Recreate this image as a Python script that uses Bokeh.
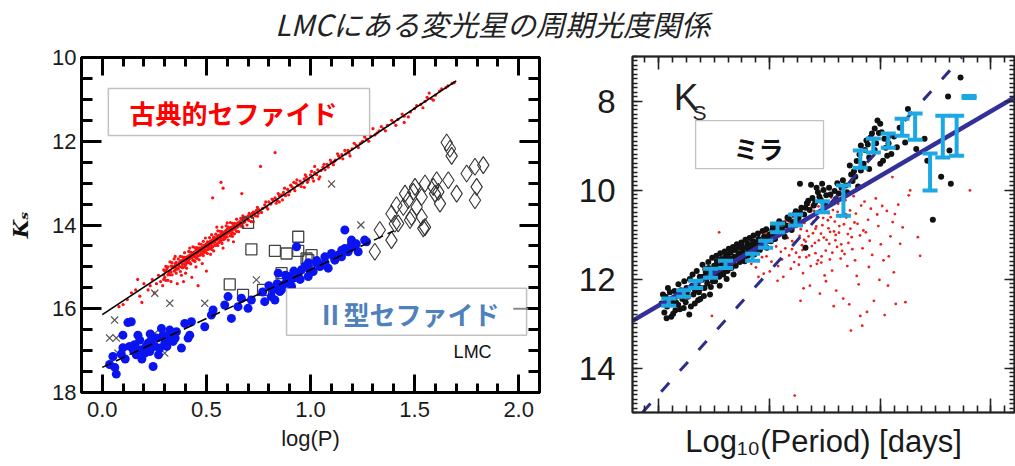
from bokeh.plotting import figure
from bokeh.models import (Range1d, FixedTicker, LinearAxis, Label, BoxAnnotation,
                          ColumnDataSource, Whisker, TeeHead, PrintfTickFormatter,
                          CustomJSTickFormatter)
from bokeh.layouts import column, row
from bokeh.embed import file_html
from bokeh.resources import INLINE

TITLE = "LMCにある変光星の周期光度関係"

# ================= LEFT PANEL DATA (log P, Ks) =================
left_xticks = [0.0, 0.5, 1.0, 1.5, 2.0]
left_yticks = [10, 12, 14, 16, 18]

# classical Cepheids (red dots): rows of (logP, [Ks...])
cep_rows = [
    (0.08, [15.95]), (0.10, [15.90]), (0.12, [15.78]), (0.14, [15.62]), (0.16, [15.55]),
    (0.17, [15.30]), (0.18, [15.70]), (0.19, [15.85]), (0.20, [15.40]), (0.22, [15.55]),
    (0.23, [15.45]), (0.24, [15.30]), (0.25, [15.62]), (0.26, [15.40]), (0.27, [15.20]),
    (0.28, [15.35]), (0.29, [15.45]),
    (0.30, [15.10, 15.25]), (0.31, [15.05]), (0.32, [15.15]), (0.33, [14.98, 15.12, 15.35]),
    (0.34, [15.02]), (0.35, [14.92, 15.08, 14.75]), (0.36, [14.95, 15.05, 15.40]), (0.37, [14.90, 14.99]),
    (0.38, [14.85, 15.00, 15.20]), (0.39, [14.82, 14.93, 15.35]), (0.40, [14.78, 14.88, 14.95, 15.15]),
    (0.41, [14.75, 14.85]), (0.42, [14.72, 14.80, 14.90, 14.55]), (0.43, [14.70, 14.78, 15.25]),
    (0.44, [14.65, 14.75, 14.85]), (0.45, [14.60, 14.70, 14.78, 15.00]), (0.46, [14.58, 14.66, 14.74, 15.45]),
    (0.47, [14.55, 14.63, 14.72]), (0.48, [14.52, 14.60, 14.68, 14.92]), (0.49, [14.48, 14.57, 14.65]),
    (0.50, [14.45, 14.52, 14.60, 15.10]), (0.51, [14.42, 14.50, 14.58]), (0.52, [14.38, 14.46, 14.55, 14.70]),
    (0.53, [14.35, 14.43, 14.52, 13.35]), (0.54, [14.32, 14.40, 14.48]), (0.55, [14.28, 14.36, 14.45, 14.05]),
    (0.56, [14.25, 14.33, 14.42]), (0.57, [14.22, 14.30, 14.38, 12.98]), (0.58, [14.18, 14.26, 14.35, 14.55, 13.12]),
    (0.59, [14.15, 14.23, 14.32]), (0.60, [14.10, 14.20, 14.28, 13.95]), (0.61, [14.08, 14.17]),
    (0.62, [14.05, 14.14, 14.22]), (0.63, [14.02, 14.10, 14.40]), (0.64, [13.98, 14.08]),
    (0.65, [13.95, 14.05]), (0.66, [13.92, 14.00]), (0.67, [13.88, 13.98, 13.25]), (0.68, [13.85, 13.94]),
    (0.69, [13.82]), (0.70, [13.78, 13.88]), (0.71, [13.76]), (0.72, [13.72, 13.82]), (0.73, [13.70]),
    (0.74, [13.65]), (0.75, [13.62, 13.72]), (0.76, [12.60]), (0.77, [13.60]), (0.78, [13.52]),
    (0.79, [13.58]), (0.80, [13.45]), (0.81, [13.50]), (0.82, [13.40]), (0.83, [13.35, 12.27]),
    (0.84, [13.42]), (0.85, [13.30, 13.45]), (0.86, [13.28]), (0.87, [13.22]), (0.88, [13.30]),
    (0.89, [13.15]), (0.90, [13.20]), (0.91, [13.08]), (0.92, [13.12, 12.98]), (0.93, [13.00]),
    (0.94, [13.05]), (0.95, [12.95]), (0.96, [13.00]), (0.97, [12.90, 13.10]), (0.98, [12.85]),
    (0.99, [12.92]), (1.00, [12.80]), (1.01, [12.88]), (1.02, [12.75, 12.60]), (1.03, [12.80]),
    (1.04, [12.90]), (1.05, [12.70]), (1.06, [12.62]), (1.07, [12.68]), (1.08, [12.55]),
    (1.10, [12.50]), (1.11, [12.56]), (1.12, [12.45]), (1.13, [12.30]), (1.14, [12.40]),
    (1.15, [12.32]), (1.17, [12.30]), (1.18, [12.22]), (1.19, [12.35]), (1.20, [12.18]),
    (1.22, [12.10]), (1.24, [12.05, 11.50]), (1.25, [12.00]), (1.27, [11.95]), (1.29, [11.88]),
    (1.30, [11.70]), (1.31, [11.85]), (1.33, [11.75]), (1.35, [11.70]), (1.37, [11.62]),
    (1.40, [11.55]), (1.42, [11.48]), (1.45, [11.40, 11.55]), (1.48, [11.30]), (1.50, [11.22]),
    (1.53, [11.12]), (1.55, [11.05]), (1.57, [10.85]), (1.58, [10.98]), (1.60, [10.90]),
    (1.62, [10.80]), (1.65, [10.72]), (1.68, [10.62]),
    (0.295, [15.07, 15.30, 15.19]), (0.305, [15.10, 15.32, 14.99]), (0.315, [15.19, 15.00, 15.32]),
    (0.325, [14.88, 15.10, 15.19]), (0.335, [15.19, 14.98, 14.90]), (0.345, [14.99, 15.10, 14.81]),
    (0.355, [15.15, 14.89, 15.03]), (0.365, [14.81, 14.95, 15.05]), (0.375, [15.11, 14.86, 14.75]),
    (0.385, [14.94, 14.76, 15.02]), (0.395, [14.77, 15.00, 14.66]), (0.405, [14.91, 14.78, 15.03]),
    (0.415, [14.63, 14.83, 14.90]), (0.425, [14.93, 14.65, 14.76]), (0.435, [14.67, 14.84, 14.52]),
    (0.445, [14.76, 14.54, 14.87]), (0.455, [14.54, 14.68, 14.80]), (0.465, [14.83, 14.55, 14.45]),
    (0.475, [14.62, 14.46, 14.69]), (0.485, [14.39, 14.62, 14.73]), (0.495, [14.65, 14.50, 14.31]),
    (0.505, [14.40, 14.68, 14.53]), (0.515, [14.56, 14.30, 14.41]), (0.525, [14.23, 14.50, 14.58]),
    (0.535, [14.41, 14.29, 14.62]), (0.545, [14.22, 14.49, 14.33]), (0.555, [14.49, 14.26, 14.14]),
    (0.565, [14.34, 14.15, 14.39]), (0.575, [14.16, 14.44, 14.05]), (0.585, [14.34, 14.19, 14.28]),
    (0.595, [14.02, 14.28, 14.13]), (0.605, [14.36, 14.05, 14.19]), (0.615, [14.07, 14.26, 13.94]),
    (0.625, [14.18, 13.96, 14.27]), (0.635, [13.96, 14.10, 14.21]), (0.645, [14.15, 13.86]),
    (0.655, [13.96, 14.16]), (0.665, [14.03, 13.84]), (0.675, [13.78, 14.04]), (0.685, [13.92, 13.81]),
    (0.695, [14.00]), (0.705, [13.72, 13.89]), (0.715, [13.92]), (0.725, [13.69, 13.92]),
    (0.735, [13.78]), (0.745, [13.58, 13.79]),
    (0.765, [13.70]), (0.785, [13.45]), (0.795, [13.62]), (0.815, [13.38]), (0.835, [13.48]),
    (0.845, [13.25]), (0.865, [13.40]), (0.875, [13.12]), (0.895, [13.28]), (0.905, [13.05]),
    (0.925, [13.18]), (0.935, [12.92]), (0.955, [13.08]), (0.975, [12.80]), (0.985, [12.98]),
    (1.005, [12.72]), (1.015, [12.95]), (1.035, [12.68]), (1.045, [12.85]), (1.065, [12.55]),
    (1.085, [12.62]), (1.095, [12.45]), (1.115, [12.48]), (1.135, [12.35]), (1.155, [12.42]),
    (1.165, [12.22]), (1.185, [12.28]), (1.21, [12.05]), (1.23, [12.15]), (1.26, [11.90]),
    (1.28, [12.00]), (1.32, [11.80]), (1.34, [11.65]), (1.36, [11.75]), (1.39, [11.50]),
    (1.41, [11.62]), (1.44, [11.35]), (1.47, [11.42]), (1.51, [11.15]), (1.54, [11.20]),
    (1.56, [10.95]), (1.59, [11.02]), (1.63, [10.75]), (1.66, [10.68]), (1.69, [10.60]),
]
cep_logp = [x for x, ks in cep_rows for _ in ks]
cep_ks = [k for _, ks in cep_rows for k in ks]
cep_fit_logp = [0.0, 1.70]
cep_fit_ks = [16.14, 10.56]

# type II Cepheids (blue filled circles)
t2_logp = [0.035, 0.067, 0.051, 0.091, 0.099, 0.123, 0.139, 0.099, 0.131, 0.155, 0.171, 0.187, 0.204,
           0.163, 0.220, 0.236, 0.244, 0.228, 0.252, 0.276, 0.284, 0.292, 0.300, 0.316, 0.324, 0.340,
           0.356, 0.380, 0.396, 0.412, 0.420, 0.428, 0.492, 0.524, 0.532, 0.588, 0.604, 0.620, 0.652,
           0.668, 0.700, 0.716, 0.780, 0.812, 0.821, 0.829, 0.845, 0.853, 0.869, 0.885, 0.893, 0.909,
           0.917, 0.933, 0.941, 0.957, 0.973, 0.989, 0.997, 1.013, 1.029, 1.045, 1.061, 1.069, 1.085,
           1.101, 1.117, 1.133, 1.149, 1.165, 1.165, 1.181, 1.197, 1.213, 1.229, 1.269, 1.197, 1.260,
           0.06, 0.11, 0.15, 0.18, 0.21, 0.26, 0.19, 0.27, 0.31, 0.35, 0.23, 0.16,
           0.77, 0.80, 0.84, 0.88, 0.92, 0.95, 0.99, 1.03, 1.07, 1.11, 1.15, 1.19, 1.22, 0.86, 0.90]
t2_ks = [17.33, 17.56, 17.14, 17.08, 16.93, 16.33, 16.31, 16.63, 16.90, 16.86, 16.63, 16.98, 17.06,
         17.10, 16.82, 16.74, 17.38, 17.02, 16.90, 16.94, 16.47, 16.63, 16.82, 16.67, 16.51, 16.78,
         16.55, 16.94, 16.35, 16.70, 16.63, 16.31, 16.43, 16.15, 16.03, 15.91, 15.71, 16.23, 15.95,
         15.75, 15.99, 15.79, 15.83, 15.71, 15.55, 15.79, 15.15, 15.59, 15.43, 15.35, 15.23, 15.47,
         15.27, 14.52, 15.19, 15.07, 14.99, 15.23, 15.07, 15.11, 14.91, 14.99, 14.95, 14.76, 15.03,
         14.68, 14.84, 14.72, 14.76, 14.56, 14.12, 14.64, 14.44, 14.52, 14.64, 14.40, 14.36, 14.36,
         17.40, 17.20, 17.00, 16.75, 16.90, 16.70, 17.20, 17.10, 16.90, 16.70, 16.60, 16.95,
         15.60, 15.45, 15.40, 15.20, 15.10, 15.30, 14.90, 14.85, 14.90, 14.75, 14.60, 14.55, 14.45, 15.55, 15.38]
t2_fit_logp = [0.0, 1.40]
t2_fit_ks = [17.40, 14.14]

# other variables (crosses, squares, diamonds)
cross_logp = [0.059, 0.035, 0.067, 0.075, 0.252, 0.324, 0.300, 0.252, 0.492, 0.740, 1.242, 1.101]
cross_ks = [16.27, 16.70, 16.70, 17.06, 15.63, 15.87, 17.06, 16.59, 15.87, 15.31, 14.00, 13.02]
sq_logp = [0.612, 0.676, 0.716, 0.772, 0.829, 0.861, 0.885, 0.941, 0.941, 0.981, 1.005, 0.989, 0.700]
sq_ks = [15.42, 15.67, 14.58, 15.55, 14.62, 15.15, 14.68, 14.28, 14.62, 14.80, 14.72, 14.84, 13.95]
dia_logp = [1.309, 1.333, 1.389, 1.421, 1.542, 1.478, 1.389, 1.413, 1.405, 1.469, 1.485, 1.494, 1.510,
            1.534, 1.534, 1.550, 1.550, 1.590, 1.598, 1.614, 1.622, 1.654, 1.670, 1.678, 1.662, 1.702,
            1.750, 1.790, 1.830, 1.798, 1.790, 1.446, 1.502, 1.454, 1.606]
dia_ks = [14.64, 14.12, 14.36, 13.96, 14.08, 13.88, 13.73, 13.53, 13.97, 13.41, 13.81, 13.21, 13.57,
          13.33, 13.81, 13.01, 14.05, 13.09, 13.25, 13.21, 13.49, 12.03, 12.18, 12.35, 12.93, 13.25,
          12.77, 12.61, 12.57, 13.09, 13.41, 13.57, 13.09, 13.25, 12.93]
dash_mark_logp = [2.01]
dash_mark_ks = [16.0]

# ================= RIGHT PANEL DATA (Miras) =================
right_xticks = [1.6, 2.0, 2.4, 2.8]
right_yticks = [8, 10, 12, 14]

mira_black = [
    (1.61, 12.55), (1.62, 12.75), (1.625, 12.40), (1.63, 12.62), (1.64, 12.30), (1.645, 12.85),
    (1.65, 12.50), (1.66, 12.70), (1.665, 12.38), (1.67, 12.58), (1.68, 12.25), (1.685, 12.45),
    (1.69, 12.65), (1.70, 12.20), (1.705, 12.40), (1.71, 12.80), (1.72, 12.15), (1.725, 12.35),
    (1.73, 12.55), (1.74, 12.10), (1.745, 12.30), (1.75, 12.45), (1.755, 12.02),
    (1.76, 11.95), (1.765, 12.20), (1.77, 11.85), (1.775, 12.10), (1.78, 11.75), (1.785, 12.35),
    (1.79, 11.90), (1.795, 12.05), (1.80, 11.70), (1.805, 11.95), (1.81, 11.60), (1.815, 11.85),
    (1.82, 12.15), (1.825, 11.55), (1.83, 11.80), (1.835, 11.65), (1.84, 11.50), (1.845, 12.00),
    (1.85, 11.45), (1.855, 11.70), (1.86, 11.40), (1.865, 11.60), (1.87, 11.90), (1.875, 11.35),
    (1.88, 11.55), (1.885, 11.30), (1.89, 11.48), (1.90, 11.25), (1.905, 11.42), (1.91, 11.60),
    (1.92, 11.20), (1.925, 11.38), (1.93, 11.30), (1.94, 11.15), (1.945, 11.45), (1.95, 11.25),
    (1.96, 11.10), (1.965, 11.35), (1.97, 11.20),
    (1.98, 11.05), (1.99, 11.30), (2.00, 11.00), (2.005, 11.15), (2.01, 10.90), (2.02, 11.10),
    (2.03, 10.85), (2.04, 10.95), (2.05, 10.75), (2.055, 11.05), (2.06, 10.80), (2.07, 10.65),
    (2.08, 10.90), (2.09, 10.55), (2.10, 10.70), (2.11, 10.50), (2.13, 11.30),
    (2.11, 9.86), (2.15, 9.88), (2.17, 9.95), (2.19, 9.86), (2.13, 10.40), (2.14, 10.24),
    (2.16, 10.35), (2.18, 10.15), (2.20, 10.30), (2.22, 10.10), (2.24, 10.20), (2.25, 10.08),
    (2.26, 9.95), (2.28, 10.05), (2.29, 9.45), (2.30, 9.80), (2.31, 9.70), (2.33, 9.56), (2.32, 9.92),
    (2.33, 9.00), (2.34, 9.41), (2.35, 8.89), (2.36, 9.27), (2.37, 8.73), (2.38, 8.62), (2.39, 8.44),
    (2.40, 8.51), (2.405, 8.70), (2.40, 9.41), (2.41, 9.34), (2.42, 9.05), (2.425, 9.23), (2.44, 9.19),
    (2.45, 8.80), (2.46, 9.04), (2.47, 8.60), (2.43, 8.95), (2.36, 9.53), (2.38, 9.10),
    (2.49, 8.93), (2.50, 8.18), (2.53, 9.08), (2.56, 8.85), (2.57, 9.34), (2.59, 10.67),
    (2.62, 9.70), (2.65, 9.11), (2.655, 9.86), (2.645, 7.90), (2.69, 7.47),
    (1.615, 12.35), (1.628, 12.88), (1.633, 12.20), (1.641, 12.48), (1.652, 12.78), (1.657, 12.27),
    (1.662, 12.52), (1.671, 12.12), (1.676, 12.68), (1.683, 12.36), (1.692, 12.05), (1.697, 12.52),
    (1.703, 12.28), (1.712, 12.00), (1.716, 12.62), (1.722, 11.90), (1.731, 12.25), (1.737, 11.82),
    (1.742, 12.48), (1.748, 11.95), (1.752, 12.20), (1.758, 11.68), (1.763, 12.38), (1.768, 11.78),
    (1.772, 12.00), (1.779, 11.62), (1.783, 11.88), (1.788, 12.18), (1.793, 11.52), (1.798, 11.80),
    (1.803, 12.05), (1.808, 11.48), (1.812, 11.72), (1.818, 11.95), (1.822, 11.42), (1.828, 11.68),
    (1.833, 11.90), (1.838, 11.38), (1.842, 11.60), (1.848, 11.82), (1.853, 11.32), (1.858, 11.55),
    (1.862, 11.75), (1.868, 11.28), (1.872, 11.50), (1.878, 11.70), (1.882, 11.22), (1.888, 11.42),
    (1.893, 11.62), (1.898, 11.18), (1.903, 11.35), (1.908, 11.52), (1.913, 11.12), (1.918, 11.30),
    (1.922, 11.48), (1.928, 11.08), (1.933, 11.25), (1.938, 11.40), (1.942, 11.02), (1.948, 11.18),
    (1.953, 11.35), (1.958, 10.98), (1.962, 11.15), (1.968, 11.30), (1.975, 10.92), (1.982, 11.12),
    (1.988, 10.88), (1.995, 11.05), (2.012, 10.82), (2.018, 11.00), (2.025, 10.78), (2.035, 10.70),
    (2.045, 10.88), (2.065, 10.62), (2.085, 10.72), (2.095, 10.48), (2.105, 10.62), (2.115, 10.40),
    (2.125, 10.55), (2.135, 10.30), (2.145, 10.45), (2.155, 10.18), (2.165, 10.28), (2.175, 10.05),
    (2.185, 10.22), (2.195, 10.00), (2.205, 10.12), (2.215, 9.95), (2.235, 10.02), (2.245, 9.85),
    (2.265, 9.78), (2.275, 9.90), (2.295, 9.65), (2.305, 9.58), (2.315, 9.35), (2.325, 9.20),
    (2.345, 9.10), (2.355, 8.98), (2.365, 8.82), (2.385, 8.95), (2.395, 8.72), (2.415, 8.85),
]
mira_black_logp = [p[0] for p in mira_black]
mira_black_ks = [p[1] for p in mira_black]

mira_red = [
    (1.903, 11.47), (1.921, 11.29), (1.934, 11.66), (1.912, 11.58), (1.938, 11.12),
    (1.947, 11.38), (1.962, 11.07), (1.951, 11.74), (1.973, 11.51), (1.968, 11.22), (1.979, 11.88),
    (1.986, 10.96), (1.993, 11.33), (2.007, 11.61), (2.014, 11.14), (2.001, 11.83), (2.018, 10.87), (1.989, 11.49),
    (2.024, 11.27), (2.037, 10.78), (2.045, 11.56), (2.052, 11.02), (2.031, 11.71), (2.058, 10.69),
    (2.041, 11.39), (2.029, 12.04),
    (2.063, 10.93), (2.071, 11.47), (2.084, 10.61), (2.092, 11.19), (2.077, 11.77), (2.098, 10.83),
    (2.066, 11.08), (2.089, 11.62), (2.081, 11.33),
    (2.104, 10.52), (2.117, 11.24), (2.126, 10.74), (2.133, 11.51), (2.109, 11.03), (2.138, 10.41),
    (2.121, 11.87), (2.113, 10.88), (2.131, 11.16), (2.106, 11.68),
    (2.143, 10.33), (2.157, 10.97), (2.166, 11.42), (2.172, 10.61), (2.149, 11.71), (2.178, 11.13),
    (2.161, 10.47), (2.153, 11.26), (2.169, 10.82), (2.146, 12.15), (2.175, 11.58),
    (2.184, 10.28), (2.191, 10.79), (2.203, 11.36), (2.214, 10.52), (2.196, 11.07), (2.219, 10.94),
    (2.187, 11.63), (2.208, 10.39), (2.216, 11.21), (2.199, 11.92), (2.211, 10.68), (2.182, 12.33),
    (2.223, 10.17), (2.236, 10.71), (2.244, 11.28), (2.229, 10.45), (2.251, 10.96), (2.257, 11.54),
    (2.238, 11.13), (2.226, 11.81), (2.248, 10.31), (2.241, 12.26), (2.232, 12.61), (2.254, 10.59),
    (2.263, 10.09), (2.277, 10.62), (2.285, 11.19), (2.268, 10.38), (2.292, 10.87), (2.271, 11.44),
    (2.297, 11.06), (2.281, 11.71), (2.266, 12.44), (2.288, 12.57), (2.294, 13.16), (2.274, 10.23),
    (2.304, 10.14), (2.312, 10.53), (2.327, 11.02), (2.318, 10.76), (2.336, 11.31), (2.309, 11.58),
    (2.331, 10.35), (2.322, 12.12), (2.328, 12.83), (2.315, 11.93), (2.339, 10.91),
    (2.343, 10.26), (2.356, 10.67), (2.362, 11.14), (2.348, 10.95), (2.371, 11.46), (2.366, 10.42),
    (2.352, 12.74), (2.377, 12.49), (2.359, 11.73), (2.335, 13.05),
    (2.384, 10.19), (2.393, 10.81), (2.402, 11.22), (2.389, 10.55), (2.412, 11.58), (2.397, 12.02),
    (2.407, 10.36), (2.416, 12.81),
    (2.424, 10.47), (2.437, 11.04), (2.445, 10.72), (2.431, 11.49), (2.428, 12.15), (2.444, 9.71),
    (2.453, 10.54), (2.456, 12.56), (2.449, 11.85),
    (2.465, 10.33), (2.472, 11.21), (2.481, 10.84), (2.491, 12.52), (2.503, 10.12), (2.508, 10.01),
    (2.536, 11.06), (2.544, 11.48), (2.724, 10.01),
    (1.792, 12.83), (1.818, 10.95), (2.064, 9.26), (2.091, 14.62), (2.112, 12.49), (1.960, 11.95),
    (2.050, 11.95), (2.123, 12.21), (2.204, 12.05),
    (2.057, 11.31), (2.073, 10.74), (2.096, 11.41), (2.102, 10.66), (2.119, 11.35), (2.128, 10.58),
    (2.141, 11.04), (2.159, 10.71), (2.164, 11.19), (2.177, 10.37), (2.188, 11.49), (2.194, 10.63),
    (2.206, 11.12), (2.213, 10.86), (2.227, 11.41), (2.233, 10.93), (2.246, 10.49), (2.259, 11.22),
    (2.269, 10.77), (2.283, 10.99), (2.291, 10.46), (2.299, 11.33), (2.135, 10.92), (2.151, 10.39),
    (2.171, 11.66), (2.186, 10.98), (2.218, 11.56), (2.239, 11.01), (2.262, 11.37), (2.276, 10.54),
    (2.108, 11.51), (2.082, 11.15), (2.062, 10.79), (2.198, 10.47), (2.221, 10.61), (2.252, 10.81),
    (2.166, 10.87), (2.143, 11.47), (2.125, 11.12), (2.307, 10.73),
]
mira_red_logp = [p[0] for p in mira_red]
mira_red_ks = [p[1] for p in mira_red]

# binned means with error bars (cyan)
bin_logp = [1.636, 1.690, 1.733, 1.787, 1.841, 1.939, 1.986, 2.029, 2.094, 2.191, 2.267,
            2.328, 2.375, 2.429, 2.479, 2.526, 2.580, 2.626, 2.676, 2.721]
bin_lo = [12.60, 12.40, 12.20, 11.97, 11.75, 11.59, 11.30, 10.95, 10.80, 10.50, 10.58,
          9.50, 9.16, 9.05, 8.78, 8.87, 10.01, 9.27, 9.23, 7.93]
bin_hi = [12.44, 12.25, 12.04, 11.77, 11.59, 11.43, 11.14, 10.75, 10.55, 10.25, 9.90,
          9.11, 8.84, 8.73, 8.40, 8.28, 9.18, 8.33, 8.33, 7.89]

pl_fit_logp = [1.505, 2.885]
pl_fit_ks = [12.94, 7.92]
steep_fit_logp = [1.541, 2.694]
steep_fit_ks = [15.00, 7.02]

# ================= helpers =================
EMPTY = CustomJSTickFormatter(code="return ''")


def style_axis(ax, ticks, minor, tin, tmin, lw, color, fmt=None, font=None, size=None,
               standoff=0, show=True):
    ax.ticker = FixedTicker(ticks=ticks, minor_ticks=minor)
    ax.major_tick_in = tin
    ax.major_tick_out = 0
    ax.minor_tick_in = tmin
    ax.minor_tick_out = 0
    ax.major_tick_line_width = lw
    ax.minor_tick_line_width = lw
    ax.major_tick_line_color = color
    ax.minor_tick_line_color = color
    ax.axis_line_color = color
    ax.axis_line_width = lw
    if show:
        if fmt:
            ax.formatter = PrintfTickFormatter(format=fmt)
        ax.major_label_text_font = font
        ax.major_label_text_font_size = size
        ax.major_label_text_color = "#1a1a1a"
        ax.major_label_standoff = standoff
    else:
        ax.formatter = EMPTY
        ax.major_label_standoff = 0
        ax.major_label_text_font_size = "1px"


# ================= title strip =================
pt = figure(width=1015, height=46, x_range=Range1d(0, 1015), y_range=Range1d(0, 46),
            output_backend="svg", toolbar_location=None, min_border=0)
pt.axis.visible = False
pt.grid.visible = False
pt.outline_line_color = None
pt.add_layout(Label(x=492, y=24, text=TITLE, text_align="center", text_baseline="middle",
                    text_font="Noto Sans CJK JP", text_font_size="29px",
                    text_font_style="italic", text_color="#222222"))

# ================= left panel =================
p1 = figure(width=560, height=420, x_range=Range1d(-0.1, 2.1), y_range=Range1d(18, 10),
            output_backend="svg", toolbar_location=None,
            min_border_left=81, min_border_right=21, min_border_top=11, min_border_bottom=74)
p1.grid.visible = False
p1.outline_line_color = "black"
p1.outline_line_width = 3

lx_minor = [round(-0.1 + 0.1 * i, 2) for i in range(23)]
ly_minor = [10 + 0.5 * i for i in range(17)]
style_axis(p1.xaxis[0], left_xticks, lx_minor, 18, 9, 3, "black", "%.1f",
           "Liberation Sans", "22px", 9)
style_axis(p1.yaxis[0], left_yticks, ly_minor, 20, 11, 3, "black", "%d",
           "Liberation Sans", "22px", 5)
p1.xaxis[0].axis_label = "log(P)"
p1.xaxis[0].axis_label_text_font = "Liberation Sans"
p1.xaxis[0].axis_label_text_font_size = "22px"
p1.xaxis[0].axis_label_text_font_style = "normal"
p1.xaxis[0].axis_label_text_color = "#1a1a1a"
p1.xaxis[0].axis_label_standoff = 6
p1.yaxis[0].axis_label = "Kₛ"
p1.yaxis[0].axis_label_text_font = "DejaVu Serif"
p1.yaxis[0].axis_label_text_font_size = "21px"
p1.yaxis[0].axis_label_text_font_style = "bold italic"
p1.yaxis[0].axis_label_text_color = "#111111"
p1.yaxis[0].axis_label_standoff = 16
ax_top = LinearAxis()
ax_right = LinearAxis()
p1.add_layout(ax_top, "above")
p1.add_layout(ax_right, "right")
style_axis(ax_top, left_xticks, lx_minor, 18, 9, 3, "black", show=False)
style_axis(ax_right, left_yticks, ly_minor, 20, 11, 3, "black", show=False)

p1.scatter(cep_logp, cep_ks, size=3.2, color="#ff1010", line_color=None)
p1.line(cep_fit_logp, cep_fit_ks, line_color="black", line_width=1.6)
p1.scatter(cross_logp, cross_ks, marker="x", size=10, line_color="#555555", line_width=1.2)
p1.scatter(sq_logp, sq_ks, marker="square", size=11, fill_color=None, line_color="#444444", line_width=1.3)
p1.scatter(dia_logp, dia_ks, marker="diamond", size=17, fill_color=None, line_color="#333333", line_width=1.1)
p1.scatter(t2_logp, t2_ks, size=9, color="#0a14f0", line_color=None)
p1.line(t2_fit_logp, t2_fit_ks, line_color="black", line_width=1.6, line_dash="10 5")

p1.add_layout(BoxAnnotation(left=0.029, right=1.284, top=10.74, bottom=11.86,
                            fill_color="white", fill_alpha=1, line_color="#333333", line_width=1.5))
p1.add_layout(BoxAnnotation(left=0.885, right=2.038, top=15.51, bottom=16.63,
                            fill_color="white", fill_alpha=1, line_color="#333333", line_width=1.5))
p1.scatter(dash_mark_logp, dash_mark_ks, marker="dash", size=15, line_color="#888888",
           line_width=2, level="overlay")
p1.add_layout(Label(x=0.63, y=11.31, text="古典的セファイド", text_align="center",
                    text_baseline="middle", text_font="Noto Sans CJK JP", text_font_size="26px",
                    text_font_style="bold", text_color="#ff0000"))
p1.add_layout(Label(x=1.471, y=16.11, text="Ⅱ型セファイド", text_align="center",
                    text_baseline="middle", text_font="Noto Sans CJK JP", text_font_size="26px",
                    text_font_style="bold", text_color="#4f81bd"))
p1.add_layout(Label(x=1.87, y=17.04, text="LMC", text_align="right", text_baseline="middle",
                    text_font="Liberation Sans", text_font_size="18px", text_color="#111111"))

# ================= right panel =================
p2 = figure(width=455, height=420, x_range=Range1d(1.505, 2.885), y_range=Range1d(15, 7),
            output_backend="svg", toolbar_location=None,
            min_border_left=72, min_border_right=1, min_border_top=10, min_border_bottom=54)
p2.grid.visible = False
p2.outline_line_color = "#222222"
p2.outline_line_width = 2

rx_minor = [round(1.5 + 0.05 * i, 3) for i in range(29)]
ry_minor = [round(7 + 0.1 * i, 2) for i in range(81)]
style_axis(p2.xaxis[0], right_xticks, rx_minor, 14, 7, 1.6, "#222222", show=False)
style_axis(p2.yaxis[0], right_yticks, ry_minor, 10, 5, 1.6, "#222222", "%d",
           "Liberation Sans", "33px", 17)
p2.xaxis[0].axis_label = "Log₁₀(Period) [days]"
p2.xaxis[0].axis_label_text_font = "Liberation Sans"
p2.xaxis[0].axis_label_text_font_size = "31px"
p2.xaxis[0].axis_label_text_font_style = "normal"
p2.xaxis[0].axis_label_text_color = "#1a1a1a"
p2.xaxis[0].axis_label_standoff = 11
ax2_top = LinearAxis()
ax2_right = LinearAxis()
p2.add_layout(ax2_top, "above")
p2.add_layout(ax2_right, "right")
style_axis(ax2_top, right_xticks, rx_minor, 13, 6, 1.6, "#222222", show=False)
style_axis(ax2_right, right_yticks, ry_minor, 10, 5, 1.6, "#222222", show=False)

p2.scatter(mira_red_logp, mira_red_ks, size=2.8, color="#e8231f", line_color=None)
p2.scatter(mira_black_logp, mira_black_ks, size=6, color="#111111", line_color=None)
p2.line(steep_fit_logp, steep_fit_ks, line_color="#2e2d88", line_width=3, line_dash="12 16")
p2.line(pl_fit_logp, pl_fit_ks, line_color="#34309a", line_width=4.5)

cyan = "#1ca8e3"
bins = ColumnDataSource(dict(x=bin_logp, lo=bin_lo, hi=bin_hi))
p2.add_layout(Whisker(base="x", upper="hi", lower="lo", source=bins, line_color=cyan,
                      line_width=4, level="annotation",
                      upper_head=TeeHead(size=15, line_color=cyan, line_width=4),
                      lower_head=TeeHead(size=15, line_color=cyan, line_width=4)))

p2.add_layout(BoxAnnotation(left=1.733, right=2.195, top=8.44, bottom=9.52,
                            fill_color="white", fill_alpha=1, line_color="#333333", line_width=1.3))
p2.add_layout(Label(x=1.96, y=9.05, text="ミラ", text_align="center", text_baseline="middle",
                    text_font="Noto Sans CJK JP", text_font_size="25px", text_font_style="bold",
                    text_color="#111111"))
p2.add_layout(Label(x=1.654, y=7.92, text="K", text_align="left", text_baseline="alphabetic",
                    text_font="Liberation Sans", text_font_size="37px", text_color="#222222"))
p2.add_layout(Label(x=1.722, y=8.26, text="S", text_align="left", text_baseline="alphabetic",
                    text_font="Liberation Sans", text_font_size="21px", text_color="#222222"))

layout = column(pt, row(column(p1), column(p2)))
open("out.html", "w").write(file_html(layout, INLINE, title="LMC period-luminosity"))
